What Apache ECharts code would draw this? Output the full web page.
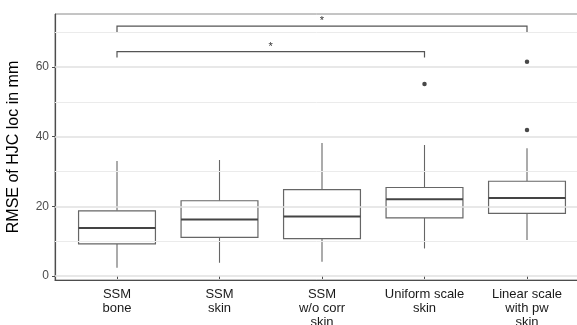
<!DOCTYPE html>
<html>
<head>
<meta charset="utf-8">
<script src="https://cdn.jsdelivr.net/npm/echarts@6/dist/echarts.min.js"></script>
<style>
html, body { margin: 0; padding: 0; background: #fff; }
#chart { width: 577px; height: 325px; }
</style>
</head>
<body>
<div id="chart"></div>
<script>
// data
var categories = ['SSM\nbone', 'SSM\nskin', 'SSM\nw/o corr\nskin', 'Uniform scale\nskin', 'Linear scale\nwith pw\nskin'];
var whiskerLow = [2.4, 3.8, 4.1, 7.9, 10.3];
var q1 = [9.2, 11.1, 10.7, 16.7, 18.0];
var medians = [13.8, 16.2, 17.1, 22.0, 22.4];
var q3 = [18.7, 21.6, 24.8, 25.4, 27.2];
var whiskerHigh = [33.0, 33.3, 38.2, 37.6, 36.7];
var outliers = [[3, 55.1], [4, 61.5], [4, 41.9]];
// [from, to, bar height, tick end]
var brackets = [[0, 4, 71.7, 69.9], [0, 3, 64.4, 62.7]];
var yTicks = [0, 20, 40, 60];
var yMinor = [10, 30, 50, 70];

var yMin = -1.15, yMax = 75.2;

var boxData = [];
for (var i = 0; i < categories.length; i++) {
    boxData.push([i, whiskerLow[i], q1[i], medians[i], q3[i], whiskerHigh[i]]);
}

var myChart = echarts.init(document.getElementById('chart'));

var gridLines = [];
yMinor.forEach(function (v) { gridLines.push({ yAxis: v, lineStyle: { color: '#ebebeb', width: 1, type: 'solid' } }); });
yTicks.forEach(function (v) { gridLines.push({ yAxis: v, lineStyle: { color: '#e0e0e0', width: 1.5, type: 'solid' } }); });

var option = {
    animation: false,
    textStyle: { fontFamily: 'Liberation Sans' },
    grid: [
        { left: 55, top: 14, right: -12, bottom: 45, outerBoundsMode: 'none', containLabel: false,
          show: true, borderColor: '#8a8a8a', borderWidth: 1, backgroundColor: '#fff' },
        { left: 65.75, top: 14, right: -1.25, bottom: 45, outerBoundsMode: 'none', containLabel: false }
    ],
    xAxis: [
        { type: 'value', gridIndex: 0, min: 0, max: 1, show: true,
          axisLine: { show: true, onZero: false, lineStyle: { color: '#4d4d4d', width: 1.2 } },
          axisTick: { show: false }, axisLabel: { show: false }, splitLine: { show: false } },
        { type: 'category', gridIndex: 1, data: categories, boundaryGap: true,
          axisLine: { show: false },
          axisTick: { show: true, alignWithLabel: true, length: 3, lineStyle: { color: '#4d4d4d' } },
          axisLabel: { interval: 0, margin: 7, fontSize: 13, lineHeight: 14.3, color: '#1a1a1a', align: 'center' },
          splitLine: { show: false } }
    ],
    yAxis: [
        { type: 'value', gridIndex: 0, min: yMin, max: yMax,
          name: 'RMSE of HJC loc in mm', nameLocation: 'middle', nameRotate: 90, nameGap: 33,
          nameTextStyle: { fontSize: 16, color: '#000' },
          axisLine: { show: true, onZero: false, lineStyle: { color: '#4d4d4d', width: 1.2 } },
          axisTick: { show: true, length: 3, customValues: yTicks, lineStyle: { color: '#4d4d4d' } },
          axisLabel: { customValues: yTicks, fontSize: 12, color: '#4d4d4d', margin: 6 },
          splitLine: { show: false } },
        { type: 'value', gridIndex: 1, min: yMin, max: yMax, show: false, splitLine: { show: false } }
    ],
    series: [
        {
            // panel gridlines
            type: 'line', xAxisIndex: 0, yAxisIndex: 0, data: [], silent: true,
            markLine: { symbol: 'none', silent: true, label: { show: false }, data: gridLines }
        },
        {
            type: 'custom', xAxisIndex: 1, yAxisIndex: 1, data: boxData,
            renderItem: function (params, api) {
                var x = api.value(0);
                var band = api.size([1, 0])[0];
                var half = band * 0.375;
                var pLow = api.coord([x, api.value(1)]);
                var pQ1 = api.coord([x, api.value(2)]);
                var pMed = api.coord([x, api.value(3)]);
                var pQ3 = api.coord([x, api.value(4)]);
                var pHigh = api.coord([x, api.value(5)]);
                var cx = pMed[0];
                var st = { stroke: '#666', lineWidth: 1.1, fill: null };
                return {
                    type: 'group',
                    children: [
                        { type: 'line', shape: { x1: cx, y1: pHigh[1], x2: cx, y2: pQ3[1] }, style: st },
                        { type: 'line', shape: { x1: cx, y1: pQ1[1], x2: cx, y2: pLow[1] }, style: st },
                        { type: 'rect', shape: { x: cx - half, y: pQ3[1], width: half * 2, height: pQ1[1] - pQ3[1] },
                          style: { stroke: '#666', lineWidth: 1.2, fill: '#fff' } },
                        { type: 'line', shape: { x1: cx - half, y1: pMed[1], x2: cx + half, y2: pMed[1] },
                          style: { stroke: '#444', lineWidth: 2 } }
                    ]
                };
            }
        },
        {
            type: 'scatter', xAxisIndex: 1, yAxisIndex: 1, data: outliers,
            symbol: 'circle', symbolSize: 4.5, itemStyle: { color: '#1a1a1a' }
        },
        {
            type: 'custom', xAxisIndex: 1, yAxisIndex: 1, data: brackets,
            renderItem: function (params, api) {
                var a = api.coord([api.value(0), api.value(2)]);
                var b = api.coord([api.value(1), api.value(2)]);
                var tEnd = api.coord([api.value(0), api.value(3)]);
                return {
                    type: 'group',
                    children: [
                        { type: 'polyline', shape: { points: [[a[0], tEnd[1]], a, b, [b[0], tEnd[1]]] },
                          style: { stroke: '#555', lineWidth: 1.2, fill: null } },
                        { type: 'text', style: { text: '*', x: (a[0] + b[0]) / 2, y: a[1] - 5,
                          textAlign: 'center', textVerticalAlign: 'middle', fontSize: 11, fill: '#333',
                          fontFamily: 'Liberation Sans' } }
                    ]
                };
            }
        }
    ]
};
myChart.setOption(option);
</script>
</body>
</html>
